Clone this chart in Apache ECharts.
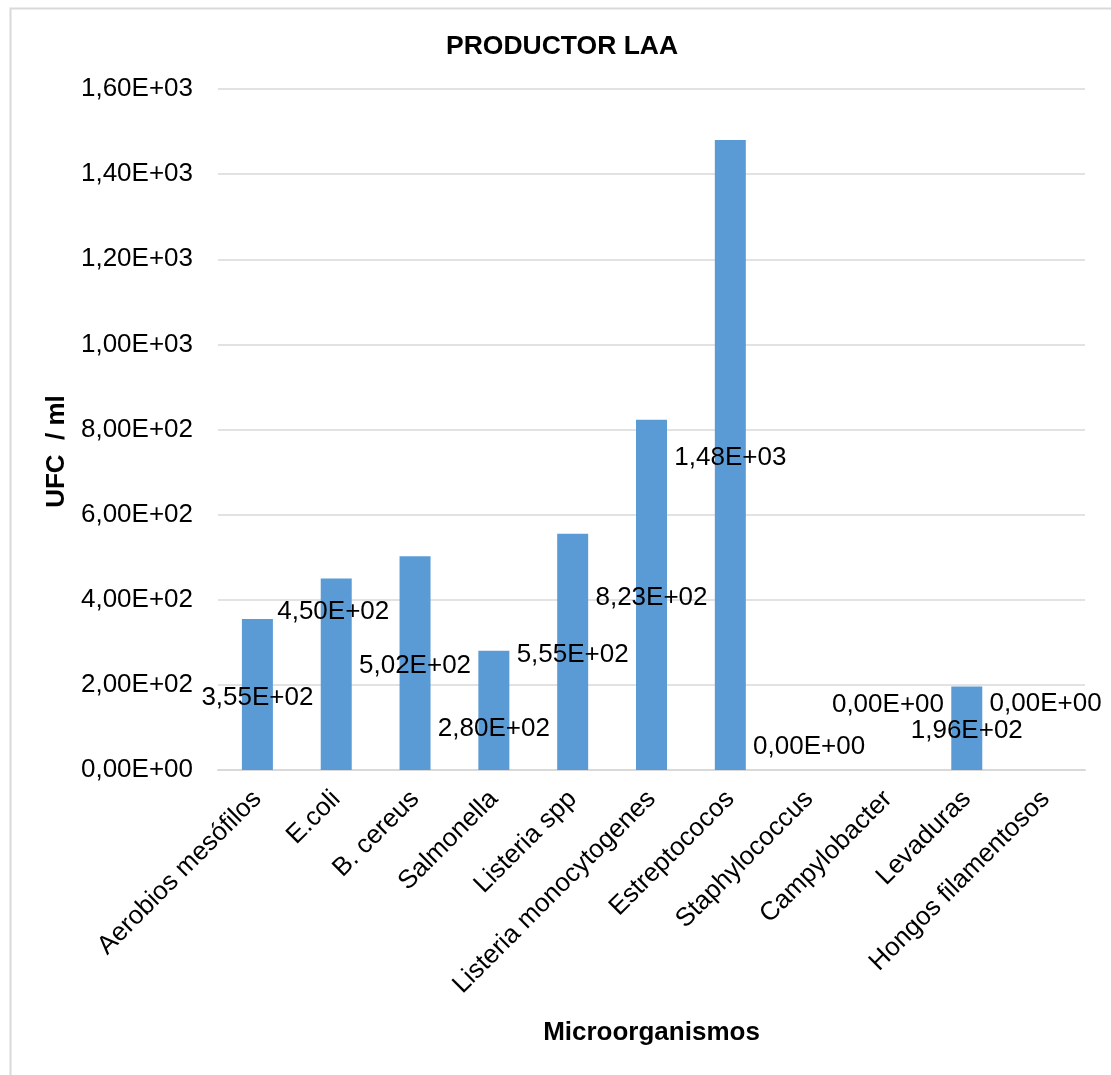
<!DOCTYPE html>
<html>
<head>
<meta charset="utf-8">
<script src="https://cdn.jsdelivr.net/npm/echarts@6/dist/echarts.min.js"></script>
<style>
html,body{margin:0;padding:0;background:#fff;}
#chart{width:1111px;height:1075px;}
</style>
</head>
<body>
<div id="chart"></div>
<script>
const titleText = 'PRODUCTOR LAA';
const categories = ['Aerobios mesófilos','E.coli','B. cereus','Salmonella','Listeria spp','Listeria monocytogenes','Estreptococos','Staphylococcus','Campylobacter','Levaduras','Hongos filamentosos'];
const values = [355, 450, 502, 280, 555, 823, 1480, 0, 0, 196, 0];
const yTicks = {min: 0, max: 1600, interval: 200};
const xName = 'Microorganismos';
const yName = 'UFC  / ml';
// label layout tweaks (position only, as the reference places some labels off-centre)
const labelOffsets = [[0,3],[-3,-62],[0,3],[0,18],[0,3],[0,3],[0,3],[0,-23],[0,-65],[0,3],[0,-66]];

const FONT = "'Liberation Sans', Arial, sans-serif";
function sci(v){
  const s = Number(v).toExponential(2);
  const m = s.split('e');
  let exp = parseInt(m[1], 10);
  const sign = exp < 0 ? '-' : '+';
  exp = Math.abs(exp);
  return m[0].replace('.', ',') + 'E' + sign + (exp < 10 ? '0' + exp : '' + exp);
}

const chart = echarts.init(document.getElementById('chart'));
chart.setOption({
  backgroundColor: '#fff',
  animation: false,
  graphic: [{
    type: 'rect', left: 8, top: 6, silent: true,
    shape: {x: 0, y: 0, width: 1200, height: 1200},
    style: {fill: 'none', stroke: '#d9d9d9', lineWidth: 2}
  }],
  title: {
    text: titleText, left: 441, top: 28,
    textStyle: {fontFamily: FONT, fontSize: 26.5, fontWeight: 'bold', color: '#000'}
  },
  grid: {left: 218, right: 26, top: 89, bottom: 305, containLabel: false},
  xAxis: {
    type: 'category', data: categories,
    name: xName, nameLocation: 'middle', nameGap: 250,
    nameTextStyle: {fontFamily: FONT, fontSize: 26, fontWeight: 'bold', color: '#000'},
    axisLine: {show: true, lineStyle: {color: '#d9d9d9', width: 2}},
    axisTick: {show: false},
    axisLabel: {interval: 0, rotate: 45, margin: 25, fontFamily: FONT, fontSize: 26, color: '#000'}
  },
  yAxis: {
    type: 'value', min: yTicks.min, max: yTicks.max, interval: yTicks.interval,
    name: yName, nameLocation: 'middle', nameGap: 147, nameRotate: 90,
    nameTextStyle: {fontFamily: FONT, fontSize: 26, fontWeight: 'bold', color: '#000', padding: [0, 44, 0, 0]},
    axisLine: {show: false}, axisTick: {show: false},
    splitLine: {lineStyle: {color: '#d9d9d9', width: 1.5}},
    axisLabel: {margin: 25, fontFamily: FONT, fontSize: 26, color: '#000', formatter: sci}
  },
  series: [{
    type: 'bar', barWidth: 31,
    itemStyle: {color: '#5b9bd5'},
    data: values.map((v, i) => ({
      value: v,
      label: {offset: labelOffsets[i]}
    })),
    label: {
      show: true, position: 'inside', color: '#000',
      fontFamily: FONT, fontSize: 26,
      formatter: p => sci(p.value)
    }
  }]
});
</script>
</body>
</html>
